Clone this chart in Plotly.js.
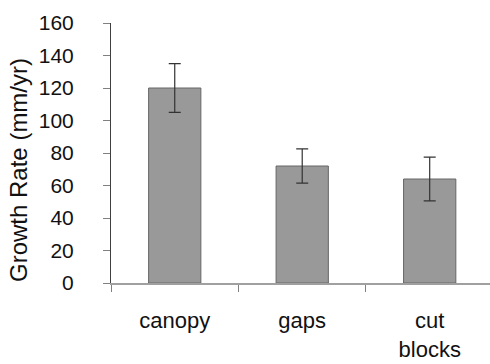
<!DOCTYPE html>
<html>
<head>
<meta charset="utf-8">
<script src="https://cdn.plot.ly/plotly-3.0.1.min.js"></script>
<style>html,body{margin:0;padding:0;background:#fff;}#chart{width:490px;height:364px;}</style>
</head>
<body>
<div id="chart"></div>
<script>
var categories = ["canopy", "gaps", "cut<br>blocks"];
var growthRate = [120, 72, 64];
var errorValues = [15, 10.5, 13.5];
var yTickValues = [0, 20, 40, 60, 80, 100, 120, 140, 160];
var yTitle = "Growth Rate (mm/yr)";

var trace = {
  type: "bar",
  x: categories,
  y: growthRate,
  width: 0.41,
  marker: {color: "#999999", line: {color: "#666666", width: 1}},
  error_y: {type: "data", array: errorValues, visible: true, color: "#333333", thickness: 1.2, width: 6},
  hoverinfo: "x+y"
};

var layout = {
  width: 490,
  height: 364,
  margin: {l: 111, r: 0, t: 23, b: 81},
  paper_bgcolor: "#ffffff",
  plot_bgcolor: "#ffffff",
  showlegend: false,
  font: {family: "Liberation Sans, Arial, sans-serif", color: "#111111"},
  xaxis: {
    type: "category",
    range: [-0.5, 2.473],
    showline: true,
    linecolor: "#a0a0a0",
    linewidth: 1.5,
    ticks: "outside",
    tickson: "boundaries",
    ticklen: 7,
    tickcolor: "#808080",
    tickwidth: 1,
    showgrid: false,
    zeroline: false,
    tickfont: {size: 22, color: "#111111"},
    ticklabelstandoff: 17,
    fixedrange: true
  },
  yaxis: {
    range: [0, 160],
    tickvals: yTickValues,
    showline: true,
    linecolor: "#404040",
    linewidth: 1,
    ticks: "outside",
    ticklen: 7,
    tickcolor: "#808080",
    tickwidth: 1,
    showgrid: false,
    zeroline: false,
    tickfont: {size: 21, color: "#111111"},
    ticklabelstandoff: 25,
    fixedrange: true
  },
  annotations: [{
    text: yTitle,
    xref: "paper", yref: "paper",
    x: 0, y: 0.5,
    xshift: -93, yshift: -17,
    xanchor: "center", yanchor: "middle",
    textangle: -90,
    showarrow: false,
    font: {size: 24, color: "#111111"}
  }]
};

Plotly.newPlot("chart", [trace], layout, {displayModeBar: false, staticPlot: true});
</script>
</body>
</html>
